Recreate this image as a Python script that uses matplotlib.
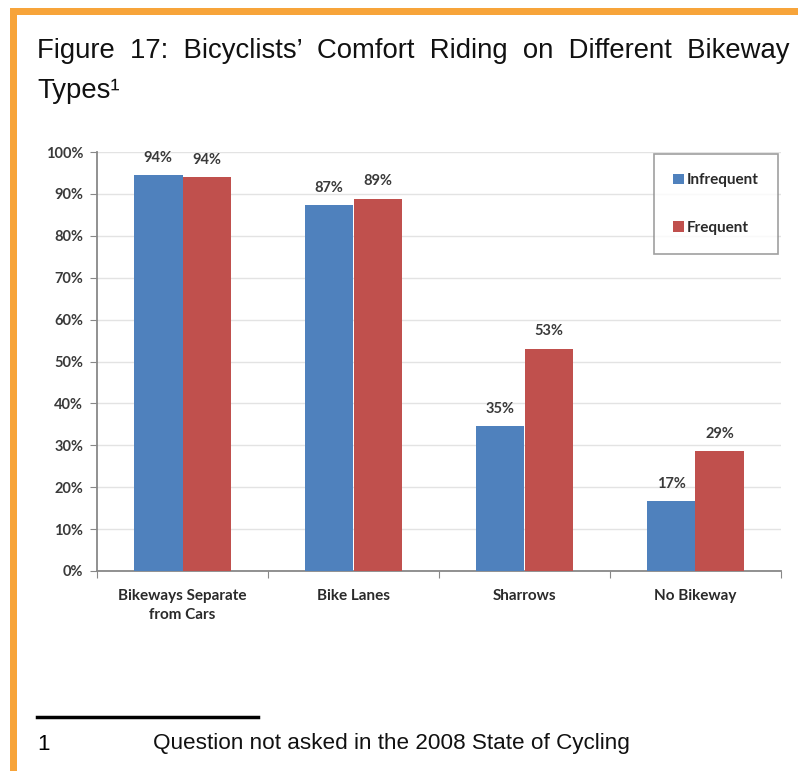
import matplotlib.pyplot as plt
import numpy as np
from matplotlib.patches import Rectangle
from matplotlib.lines import Line2D

categories = ['Bikeways Separate\nfrom Cars', 'Bike Lanes', 'Sharrows', 'No Bikeway']
infrequent = [94.5, 87.3, 34.6, 16.7]
frequent = [94.0, 88.8, 53.0, 28.6]
labels_inf = ['94%', '87%', '35%', '17%']
labels_freq = ['94%', '89%', '53%', '29%']
yticks = list(range(0, 101, 10))

blue = '#4f81bd'
red = '#c0504d'
orange = '#f7a43a'
sans = 'Liberation Sans'

W, H = 798, 771
fig = plt.figure(figsize=(W / 100, H / 100), dpi=100)

# orange frame (left and top)
fig.add_artist(Rectangle((10 / W, 0), 7 / W, 1 - 8 / H, transform=fig.transFigure,
                         color=orange, lw=0))
fig.add_artist(Rectangle((10 / W, 1 - 15 / H), 1, 7 / H, transform=fig.transFigure,
                         color=orange, lw=0))

fig.text(37 / W, 1 - 51 / H, "Figure  17:  Bicyclists’  Comfort  Riding  on  Different  Bikeway",
         fontsize=19.8, family=sans, va='center', ha='left', color='#111111')
fig.text(37 / W, 1 - 91 / H, "Types¹", fontsize=19.8, family=sans,
         va='center', ha='left', color='#111111')

ax = fig.add_axes([97 / W, 1 - 571 / H, (781 - 97) / W, (571 - 152) / H])
x = np.arange(len(categories))
bw = 0.285
ax.bar(x - bw / 2, infrequent, bw, color=blue, label='Infrequent', zorder=3)
ax.bar(x + bw / 2, frequent, bw, color=red, label='Frequent', zorder=3)

lab = dict(fontsize=10.5, family='Lato', weight='bold', color='#3a3a3a')
for i in range(len(categories)):
    ax.text(x[i] - bw / 2, infrequent[i] + 2.5, labels_inf[i], ha='center', va='bottom', **lab)
    ax.text(x[i] + bw / 2, frequent[i] + 2.5, labels_freq[i], ha='center', va='bottom', **lab)

ax.set_xlim(-0.5, len(categories) - 0.5)
ax.set_ylim(0, 100)
ax.set_yticks(yticks)
ax.set_yticklabels([f'{t}%' for t in yticks], **lab)
ax.set_xticks(np.arange(-0.5, len(categories), 1.0), minor=False)
ax.set_xticklabels([])
ax.set_xticks(x, minor=True)
ax.set_xticklabels(categories, minor=True, fontsize=11, family='Lato', weight='bold',
                   color='#2a2a2a', linespacing=1.45)
ax.tick_params(axis='x', which='minor', length=0, pad=13)
ax.tick_params(axis='x', which='major', length=5, color='#888888', direction='out')
ax.tick_params(axis='y', length=5, color='#888888', pad=5)
ax.grid(axis='y', color='#e3e3e3', lw=1, zorder=0)
for s in ['top', 'right']:
    ax.spines[s].set_visible(False)
ax.spines['left'].set_color('#888888')
ax.spines['bottom'].set_color('#888888')
ax.spines['left'].set_linewidth(1.3)
ax.spines['bottom'].set_linewidth(1.3)

leg = ax.legend(loc='upper right', bbox_to_anchor=(1.007, 1.013),
                prop={'family': 'Lato', 'size': 11, 'weight': 'bold'}, frameon=True,
                fancybox=False, edgecolor='#888888', handlelength=0.7, handleheight=0.7,
                handletextpad=0.2, labelspacing=2.2, borderpad=1.25)
leg.get_frame().set_linewidth(1.2)
for t in leg.get_texts():
    t.set_color('#2a2a2a')

# footnote
fig.add_artist(Line2D([37 / W, 258 / W], [1 - 717 / H, 1 - 717 / H], transform=fig.transFigure,
                      color='black', lw=2.5))
fig.text(37 / W, 1 - 744 / H, "1", fontsize=16, family=sans, va='center')
fig.text(153 / W, 1 - 744 / H, "Question not asked in the 2008 State of Cycling", fontsize=16.2,
         family=sans, va='center', color='#111111')

fig.savefig('out.png', dpi=100)
